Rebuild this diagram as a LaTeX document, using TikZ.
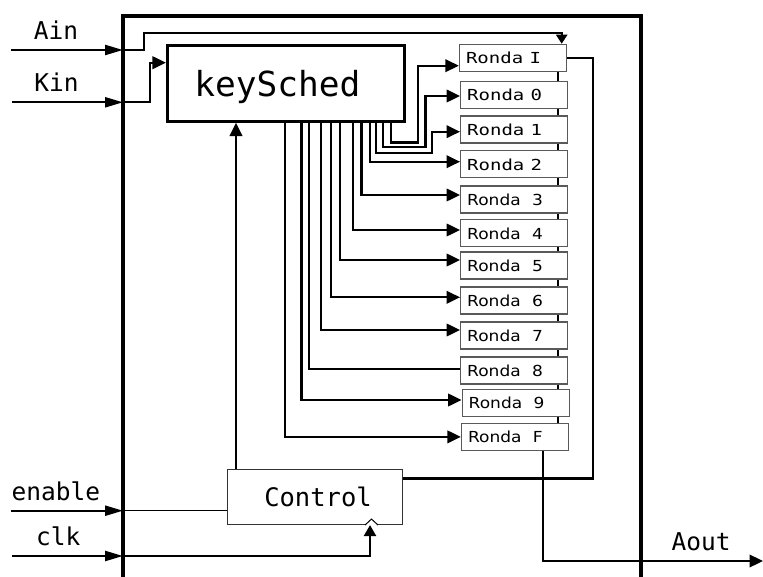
\documentclass[tikz,border=0pt]{standalone}
\usepackage{fontspec}
\newfontfamily\monof{DejaVu Sans Mono}
\newfontfamily\sansf{DejaVu Sans}
\usetikzlibrary{arrows.meta,backgrounds}
\begin{document}
\begin{tikzpicture}[x=1pt,y=-1pt,
  wire/.style={line width=2.3pt},
  arr/.style={wire,-{Triangle[length=13.5pt,width=12.5pt]}},
  arrsmall/.style={wire,-{Triangle[length=9pt,width=11pt]}},
  inarr/.style={wire,-{Triangle[length=18pt,width=10pt]}},
  rbox/.style={draw=black!65,line width=1.3pt,fill=white,minimum width=107pt,
    minimum height=27pt,text width=94pt,align=left,inner xsep=6.5pt,inner ysep=0pt,
    text height=11.5pt,text depth=0pt,font=\fontsize{15.2}{15.2}\selectfont},
  lbl/.style={anchor=base,inner sep=0pt,font=\monof\fontsize{24.5}{24.5}\selectfont}
]
\useasboundingbox (0,0) rectangle (763,577);

% outer frame (open at the bottom)
\draw[line width=4.3pt] (123,577) -- (123,16) -- (641,16) -- (641,577);

% blocks
\node[draw,line width=2.7pt,minimum width=237pt,minimum height=76pt,inner sep=0pt] (keysched) at (285.8,83.3) {};
\node[anchor=base,inner sep=0pt,font=\monof\fontsize{34.5}{34.5}\selectfont] (ktext) at (277.4,96.7) {keySched};

\node[rbox] (rI) at (513,57.9) {\monof\scalebox{1.25}[1]{Ronda I}};
\node[rbox] (r0) at (514.2,95.2) {\monof\scalebox{1.25}[1]{Ronda 0}};
\node[rbox] (r1) at (514.2,129.5) {\monof\scalebox{1.25}[1]{Ronda 1}};
\node[rbox] (r2) at (514.2,164.3) {\monof\scalebox{1.25}[1]{Ronda 2}};
\node[rbox] (r3) at (514.2,199.5) {\sansf\scalebox{1.12}[1]{Ronda~~3}};
\node[rbox] (r4) at (514.2,233.3) {\sansf\scalebox{1.12}[1]{Ronda~~4}};
\node[rbox] (r5) at (514.2,265.5) {\sansf\scalebox{1.12}[1]{Ronda~~5}};
\node[rbox] (r6) at (514.2,300.5) {\sansf\scalebox{1.12}[1]{Ronda~~6}};
\node[rbox] (r7) at (514.2,335.5) {\sansf\scalebox{1.12}[1]{Ronda~~7}};
\node[rbox] (r8) at (514.2,370.5) {\sansf\scalebox{1.12}[1]{Ronda~~8}};
\node[rbox] (r9) at (515.7,402.7) {\sansf\scalebox{1.12}[1]{Ronda~~9}};
\node[rbox] (rF) at (515,436.9) {\sansf\scalebox{1.12}[1]{Ronda~~F}};

\node[draw=black!80,line width=1pt,fill=white,minimum width=175.6pt,minimum height=54.7pt,
  font=\monof\fontsize{25.5}{25.5}\selectfont] (ctrl) at (315,497.2) {\hspace{6pt}Control};

% chain between rounds (behind the boxes)
\begin{scope}[on background layer]
  \draw[wire] ([xshift=45pt]rI.south) -- ([xshift=45pt]rI.south |- rF.north);
\end{scope}

% external signals
\coordinate (ainS) at (11,50);   \coordinate (ainB) at (123,50);
\coordinate (kinS) at (12,102.3);\coordinate (kinB) at (123,102.3);
\coordinate (enS) at (11,510.7); \coordinate (enB) at (123,510.7);
\coordinate (clkS) at (12,556);  \coordinate (clkB) at (123,556);
\coordinate (aoutE) at (763,561);
\coordinate (loop) at (593,478.5);

\node[lbl] (tAin) at (56,39.3) {Ain};
\node[lbl] (tKin) at (56.5,91.7) {Kin};
\node[lbl] (tEn) at (56,500.7) {enable};
\node[lbl] (tClk) at (58.3,545) {clk};
\node[lbl] (tAout) at (701,550.7) {Aout};

\draw[inarr] (ainS) -- (ainB);
\draw[arrsmall] (ainB) -- (144,50) -- (144,32.7) -| ([xshift=48.7pt]rI.north);

\draw[inarr] (kinS) -- (kinB);
\draw[arr] (kinB) -- (150,102.3) |- ([yshift=20.6pt]keysched.west);

% key schedule outputs
\draw[arr] ([xshift=-0.8pt]keysched.south) |- (rF.west);
\draw[arr] ([xshift=15.7pt]keysched.south) |- ([yshift=2.7pt]r9.west);
\draw[wire] ([xshift=23.5pt]keysched.south) |- ([yshift=1.2pt]r8.west);
\draw[arr] ([xshift=34.9pt]keysched.south) |- ([yshift=5.5pt]r7.west);
\draw[arr] ([xshift=45.2pt]keysched.south) |- ([yshift=3.2pt]r6.west);
\draw[arr] ([xshift=54pt]keysched.south) |- ([yshift=5.5pt]r5.west);
\draw[arr] ([xshift=67.2pt]keysched.south) |- ([yshift=3.3pt]r4.west);
\draw[arr] ([xshift=75.7pt]keysched.south) |- ([yshift=4.5pt]r3.west);
\draw[arr] ([xshift=84.2pt]keysched.south) |- ([yshift=2.6pt]r2.west);
\draw[arr] ([xshift=90.2pt]keysched.south) |- (432,153.3) |- ([yshift=-2.2pt]r1.west);
\draw[arr] ([xshift=97.2pt]keysched.south) |- (425.5,147.3) |- ([yshift=-0.8pt]r0.west);
\draw[arr] ([xshift=104.9pt]keysched.south) |- (417.7,142.5) |- ([yshift=-7.8pt]rI.west);

% outputs and control
\draw[wire] (rI.east) -| (loop) -- (ctrl.east |- loop);
\draw[arr] ([xshift=28.3pt]rF.south) |- (aoutE);
\draw[arr] ([xshift=-79pt]ctrl.north) -- ([xshift=-79pt]ctrl.north |- keysched.south);

\draw[inarr] (enS) -- (enB);
\draw[line width=1.3pt] (enB) -- (ctrl.west |- enB);

\draw[inarr] (clkS) -- (clkB);
\draw[wire,-{Triangle[length=11pt,width=12pt]}] (clkB) -| ([xshift=55pt]ctrl.south);
\draw[line width=1pt,fill=white] ([xshift=50pt]ctrl.south) -- ([xshift=56.5pt,yshift=6pt]ctrl.south) -- ([xshift=63pt]ctrl.south);
\end{tikzpicture}
\end{document}
